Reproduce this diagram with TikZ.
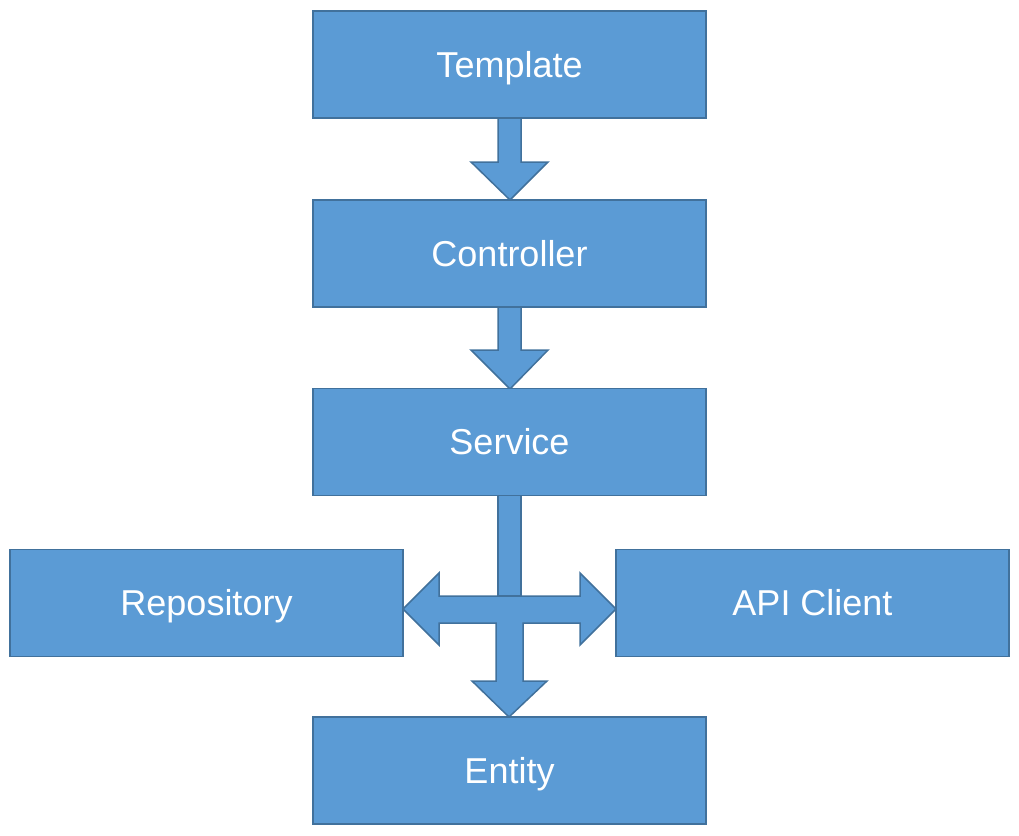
\documentclass[tikz,border=0pt]{standalone}
\usepackage{fontspec}
\setmainfont{Liberation Sans}
\definecolor{boxfill}{HTML}{5B9BD5}
\definecolor{boxline}{HTML}{41719C}
\tikzset{
  layer/.style={draw=boxline, fill=boxfill, line width=1.5pt, inner sep=0pt,
    minimum width=393pt, minimum height=107pt, text=white,
    text height=25.5pt, text depth=0pt,
    font=\fontsize{36}{42}\selectfont},
  blockarrow/.style={draw=boxline, fill=boxfill, line width=1.5pt, line join=miter}
}
\begin{document}
\begin{tikzpicture}[x=1pt,y=-1pt]
        \useasboundingbox (0,0) rectangle (1019,835);

        % arrows between the layers
        \draw [blockarrow] (498,118) -- (521,118) -- (521,162) -- (548,162) -- (510,200) -- (471,162) -- (498,162) -- cycle;
        \draw [blockarrow] (498,307) -- (521,307) -- (521,350) -- (548,350) -- (510,389) -- (471,350) -- (498,350) -- cycle;
        \draw [blockarrow] (498,495) rectangle (521,596);
        \draw [blockarrow] (403,609) -- (439,573) -- (439,596) -- (580,596) -- (580,573) -- (616,609) -- (580,645) -- (580,623)
            -- (523,623) -- (523,681) -- (547,681) -- (509,717) -- (472,681) -- (496,681) -- (496,623) -- (439,623) -- (439,645) -- cycle;

        % layers
        \node [layer] (template) at (509.5,64.5) {Template};
        \node [layer] (controller) at (509.5,253.5) {Controller};
        \node [layer] (service) at (509.5,442) {Service};
        \node [layer] (repository) at (206.5,603) {Repository};
        \node [layer] (apiclient) at (812.5,603) {API Client};
        \node [layer] (entity) at (509.5,770.5) {Entity};
\end{tikzpicture}
\end{document}
